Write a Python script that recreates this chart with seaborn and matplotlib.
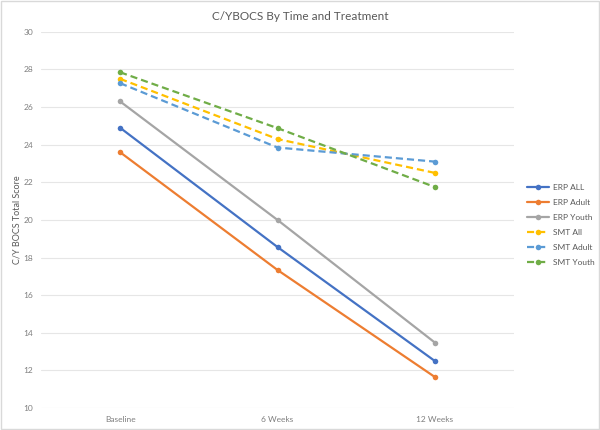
import matplotlib
matplotlib.use("Agg")
import matplotlib.pyplot as plt
import seaborn as sns
import pandas as pd

times = ["Baseline", "6 Weeks", "12 Weeks"]
series_names = ["ERP ALL", "ERP Adult", "ERP Youth", "SMT All", "SMT Adult", "SMT Youth"]
erp_all = [24.9, 18.56, 12.5]
erp_adult = [23.6, 17.34, 11.65]
erp_youth = [26.3, 20.0, 13.48]
smt_all = [27.5, 24.3, 22.5]
smt_adult = [27.27, 23.85, 23.1]
smt_youth = [27.85, 24.88, 21.75]
values = [erp_all, erp_adult, erp_youth, smt_all, smt_adult, smt_youth]
colors = ["#4472C4", "#ED7D31", "#A5A5A5", "#FFC000", "#5B9BD5", "#70AD47"]
dashed = [False, False, False, True, True, True]

rows = []
for name, vals in zip(series_names, values):
    for i, (t, v) in enumerate(zip(times, vals)):
        rows.append({"Series": name, "Time": t, "idx": i, "Score": v})
df = pd.DataFrame(rows)

sns.set_theme(style="white")
plt.rcParams["font.family"] = ["Lato", "DejaVu Sans"]

fig = plt.figure(figsize=(6, 4.3), dpi=100)
ax = fig.add_axes([0.069, 0.051, 0.787, 0.875])

sns.lineplot(data=df, x="idx", y="Score", hue="Series", style="Series",
             hue_order=series_names, style_order=series_names,
             palette=dict(zip(series_names, colors)),
             dashes={n: ((3.2, 1.8) if d else "") for n, d in zip(series_names, dashed)},
             markers={n: "o" for n in series_names},
             markersize=4, markeredgewidth=0, linewidth=1.6, ax=ax, legend=True)

ax.set_xlim(-0.5, 2.5)
ax.set_ylim(10, 30)
ax.set_yticks(range(10, 31, 2))
ax.set_xticks(range(len(times)))
ax.set_xticklabels(times)
ax.grid(axis="y", color="#E6E6E6", linewidth=0.8)
ax.set_axisbelow(True)
for s in ax.spines.values():
    s.set_visible(False)
ax.tick_params(axis="both", length=0, labelsize=6, colors="#7F7F7F", pad=6)
ax.set_xlabel("")
ax.set_ylabel("C/Y BOCS Total Score", fontsize=6.5, color="#595959", labelpad=1)
fig.suptitle("C/YBOCS By Time and Treatment", x=0.5, y=0.975, fontsize=8.5, color="#595959")

leg = ax.legend(loc="center left", bbox_to_anchor=(1.022, 0.487), frameon=False,
                fontsize=6, handlelength=2.6, handletextpad=0.5, labelspacing=0.95,
                borderaxespad=0)
for txt in leg.get_texts():
    txt.set_color("#595959")

border = plt.Rectangle((0.002, 0.002), 0.996, 0.996, transform=fig.transFigure,
                       fill=False, edgecolor="#D9D9D9", linewidth=1)
fig.add_artist(border)

fig.savefig("out.png", dpi=100)
